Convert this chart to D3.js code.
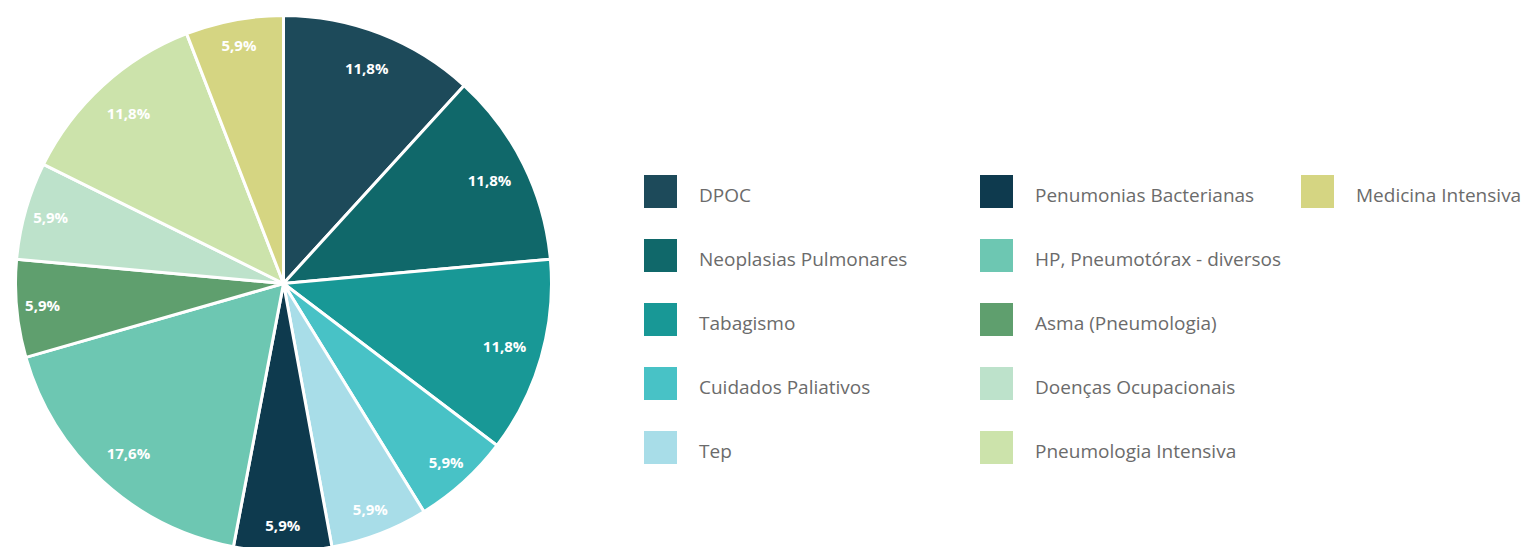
<!DOCTYPE html>
<html>
<head>
<meta charset="utf-8">
<script src="https://cdn.jsdelivr.net/npm/d3@7"></script>
<style>
  html, body { margin: 0; padding: 0; background: #fff; }
  svg { display: block; }
</style>
</head>
<body>
<svg id="chart" width="1527" height="547"></svg>
<script>
const categories = [
  'DPOC', 'Neoplasias Pulmonares', 'Tabagismo', 'Cuidados Paliativos', 'Tep',
  'Penumonias Bacterianas', 'HP, Pneumotórax - diversos', 'Asma (Pneumologia)',
  'Doenças Ocupacionais', 'Pneumologia Intensiva', 'Medicina Intensiva'
];
const shares = [11.8, 11.8, 11.8, 5.9, 5.9, 5.9, 17.6, 5.9, 5.9, 11.8, 5.9];
const labels = ['11,8%', '11,8%', '11,8%', '5,9%', '5,9%', '5,9%', '17,6%', '5,9%', '5,9%', '11,8%', '5,9%'];
const colors = [
  '#1d4a5a', '#10686a', '#189896', '#48c2c6', '#a8dde8',
  '#0e3a4e', '#6dc7b2', '#5f9f6e', '#bde2cb', '#cce3ab', '#d5d582'
];

const svg = d3.select('#chart');
const cx = 283.5, cy = 283.5, radius = 268;

const color = d3.scaleOrdinal().domain(categories).range(colors);

const pie = d3.pie().sort(null).value((d, i) => shares[i]);
const arcs = pie(categories);

const arc = d3.arc().innerRadius(0).outerRadius(radius);
// thin slices get their label pushed a little further out
const labelR = d => (d.endAngle - d.startAngle < 0.5 ? 242 : 230);
const labelPos = d => d3.arc().innerRadius(labelR(d)).outerRadius(labelR(d)).centroid(d);

const g = svg.append('g').attr('transform', `translate(${cx},${cy})`);

g.selectAll('path.slice')
  .data(arcs)
  .join('path')
  .attr('class', 'slice')
  .attr('d', arc)
  .attr('fill', d => color(d.data))
  .attr('stroke', '#fff')
  .attr('stroke-width', 3)
  .attr('stroke-linejoin', 'round');

g.selectAll('text.lbl')
  .data(arcs)
  .join('text')
  .attr('class', 'lbl')
  .attr('transform', d => `translate(${labelPos(d)})`)
  .attr('text-anchor', 'middle')
  .attr('dy', '0.35em')
  .attr('fill', '#fff')
  .style('font-family', '"Open Sans", sans-serif')
  .style('font-weight', 'bold')
  .style('font-size', '15px')
  .text((d, i) => labels[i]);

// legend: column-major, 5 rows per column
const colX = [644, 980, 1301];
const rowY = d3.scalePoint().domain(d3.range(5)).range([175, 431]);

const legend = svg.append('g');
const item = legend.selectAll('g.item')
  .data(categories)
  .join('g')
  .attr('class', 'item')
  .attr('transform', (d, i) => `translate(${colX[Math.floor(i / 5)]},${rowY(i % 5)})`);

item.append('rect')
  .attr('width', 33)
  .attr('height', 33)
  .attr('fill', d => color(d));

item.append('text')
  .attr('x', 55)
  .attr('y', 20)
  .attr('dy', '0.35em')
  .attr('fill', '#6b6b6b')
  .style('font-family', '"Open Sans", sans-serif')
  .style('font-size', '19px')
  .text(d => d);
</script>
</body>
</html>
